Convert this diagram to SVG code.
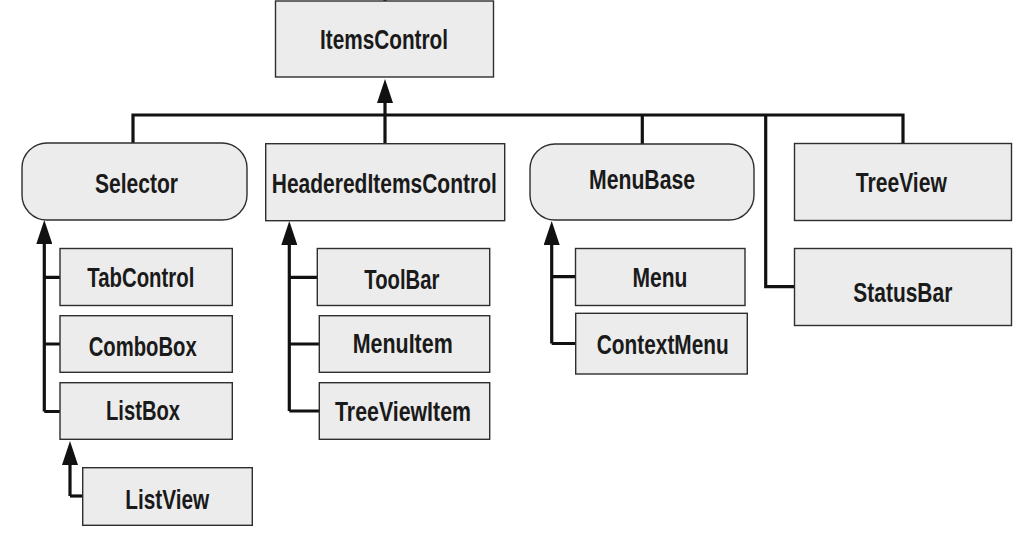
<svg xmlns="http://www.w3.org/2000/svg" width="1024" height="539" viewBox="0 0 1024 539">
<style>
.box{fill:#ececec;stroke:#2e2e2e;stroke-width:1.4}
.t{font-family:"Liberation Sans",Arial,sans-serif;font-weight:bold;font-size:27.5px;fill:#1a1a1a;text-anchor:middle}
.c{fill:none;stroke:#111;stroke-width:3.2;stroke-linejoin:miter}
</style>
<defs>
<marker id="ah" viewBox="0 0 24 16" refX="0" refY="8" markerWidth="24" markerHeight="16" markerUnits="userSpaceOnUse" orient="auto">
<path d="M0,0 L24,8 L0,16 z" fill="#111"/>
</marker>
</defs>
<rect width="1024" height="539" fill="#fff"/>
<g id="connectors">
<line class="c" x1="385" y1="-2" x2="385" y2="2"/>
<path class="c" d="M133,144 V115 H903 V144"/>
<path class="c" d="M642.3,144 V115"/>
<path class="c" d="M765.7,115 V286.7 H795"/>
<line class="c" x1="385" y1="144" x2="385" y2="103" stroke-width="4" marker-end="url(#ah)"/>
<path class="c" d="M61,277.3 H44.3 M61,344 H44.3 M61,411.5 H44.3"/>
<line class="c" x1="44.3" y1="411.5" x2="44.3" y2="244" marker-end="url(#ah)"/>
<path class="c" d="M318,277.3 H289.3 M320,344 H289.3 M320,411 H289.3"/>
<line class="c" x1="289.3" y1="411" x2="289.3" y2="245" marker-end="url(#ah)"/>
<path class="c" d="M576,276.7 H551.7 M576,343.5 H551.7"/>
<line class="c" x1="551.7" y1="343.5" x2="551.7" y2="245" marker-end="url(#ah)"/>
<path class="c" d="M83,496 H70"/>
<line class="c" x1="70" y1="496" x2="70" y2="465" marker-end="url(#ah)"/>
</g>
<g id="ItemsControl"><rect class="box" x="275.5" y="1" width="218" height="76"/><text class="t" x="384" y="49" textLength="128" lengthAdjust="spacingAndGlyphs">ItemsControl</text></g>
<g id="Selector"><rect class="box" x="22" y="143" width="225" height="77" rx="25" ry="25"/><text class="t" x="136.5" y="192.5" textLength="83" lengthAdjust="spacingAndGlyphs">Selector</text></g>
<g id="HeaderedItemsControl"><rect class="box" x="265.7" y="143.7" width="239" height="77"/><text class="t" x="384.3" y="192.5" textLength="225" lengthAdjust="spacingAndGlyphs">HeaderedItemsControl</text></g>
<g id="MenuBase"><rect class="box" x="530" y="144" width="224" height="76" rx="25" ry="25"/><text class="t" x="642" y="189" textLength="106" lengthAdjust="spacingAndGlyphs">MenuBase</text></g>
<g id="TreeView"><rect class="box" x="794.5" y="143.5" width="217" height="77"/><text class="t" x="901.3" y="191.5" textLength="91" lengthAdjust="spacingAndGlyphs">TreeView</text></g>
<g id="StatusBar"><rect class="box" x="794.5" y="248.5" width="217" height="77"/><text class="t" x="902.8" y="301.5" textLength="99" lengthAdjust="spacingAndGlyphs">StatusBar</text></g>
<g id="TabControl"><rect class="box" x="60" y="248.5" width="172.3" height="57"/><text class="t" x="140.8" y="286.5" textLength="107" lengthAdjust="spacingAndGlyphs">TabControl</text></g>
<g id="ComboBox"><rect class="box" x="60" y="315.7" width="172.3" height="56.6"/><text class="t" x="142.7" y="355.5" textLength="108" lengthAdjust="spacingAndGlyphs">ComboBox</text></g>
<g id="ListBox"><rect class="box" x="60" y="382.7" width="172.3" height="56.6"/><text class="t" x="143" y="420" textLength="74" lengthAdjust="spacingAndGlyphs">ListBox</text></g>
<g id="ListView"><rect class="box" x="82.7" y="467.7" width="169.6" height="57.6"/><text class="t" x="167.2" y="508.5" textLength="84" lengthAdjust="spacingAndGlyphs">ListView</text></g>
<g id="ToolBar"><rect class="box" x="317.3" y="248.5" width="172.4" height="57"/><text class="t" x="401.8" y="289" textLength="75" lengthAdjust="spacingAndGlyphs">ToolBar</text></g>
<g id="MenuItem"><rect class="box" x="319.3" y="315.7" width="170.4" height="56.6"/><text class="t" x="402.7" y="353.3" textLength="100" lengthAdjust="spacingAndGlyphs">MenuItem</text></g>
<g id="TreeViewItem"><rect class="box" x="319.3" y="382.7" width="170.4" height="56.6"/><text class="t" x="403" y="420.7" textLength="136" lengthAdjust="spacingAndGlyphs">TreeViewItem</text></g>
<g id="Menu"><rect class="box" x="575.5" y="248.5" width="169.5" height="57"/><text class="t" x="660" y="286.5" textLength="55" lengthAdjust="spacingAndGlyphs">Menu</text></g>
<g id="ContextMenu"><rect class="box" x="575.7" y="313.3" width="171.6" height="60.7"/><text class="t" x="662.8" y="354" textLength="132" lengthAdjust="spacingAndGlyphs">ContextMenu</text></g>
</svg>
